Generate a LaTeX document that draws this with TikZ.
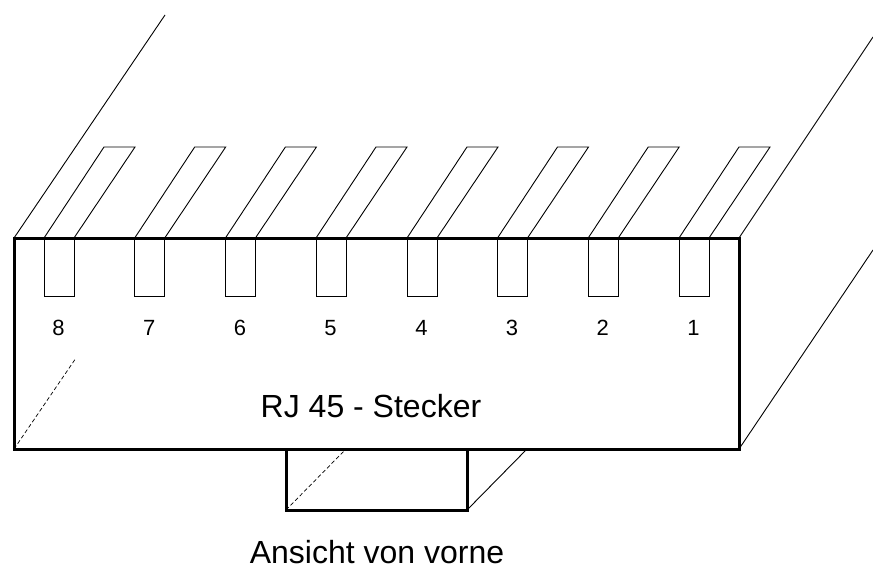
\documentclass[tikz,border=0pt]{standalone}
\usepackage{fontspec}
\setmainfont{Liberation Sans}
\tikzset{
  thinline/.style={draw=black,line width=0.9pt},
  thickline/.style={draw=black,line width=3pt,line join=miter},
  dashline/.style={draw=black,line width=0.7pt,dash pattern=on 4pt off 2.5pt},
  pinlabel/.style={inner sep=0pt,anchor=base,font=\fontsize{22pt}{24pt}\selectfont},
  biglabel/.style={inner sep=0pt,anchor=base,font=\fontsize{32pt}{36pt}\selectfont}
}
\begin{document}
\begin{tikzpicture}[x=1pt,y=-1pt]
\useasboundingbox (0,0) rectangle (873,567);
\fill[white] (0,0) rectangle (873,567);
\coordinate (tl) at (14,238);
\coordinate (tr) at (739,238);
\coordinate (br) at (739,449);
\coordinate (bl) at (14,449);
\coordinate (tlfar) at (165,15);
\coordinate (trfar) at (873,37);
\coordinate (brfar) at (873,250);
\coordinate (dashfar) at (76,358);
\coordinate (ka) at (286,449);
\coordinate (kb) at (467,449);
\coordinate (kc) at (467,510);
\coordinate (kd) at (286,510);
\coordinate (kf) at (527,449);
\coordinate (kg) at (345,450);
\draw[thinline] (tl) -- (tlfar);
\draw[thinline] (tr) -- (trfar);
\draw[thinline] (br) -- (brfar);
\draw[dashline] (bl) -- (dashfar);
\foreach \n/\x in {8/44,7/134.7,6/225.4,5/316,4/407,3/497.5,2/588.2,1/679}{
  \draw[thinline] (\x,238) -- (\x,296.5) -- ({\x+30},296.5) -- ({\x+30},238);
  \draw[thinline,line join=miter] (\x,238) -- ({\x+60},147) -- ({\x+91},147) -- ({\x+30},238);
  \node[pinlabel] (pin\n) at ({\x+14.5},335) {\n};
}
\draw[thickline] (tl) -- (tr) -- (br) -- (bl) -- cycle;
\draw[thickline] (ka) -- (kb) -- (kc) -- (kd) -- cycle;
\draw[thinline] (kc) -- (kf);
\draw[dashline] (kd) -- (kg);
\node[biglabel] (title) at (371,417) {RJ 45 - Stecker};
\node[biglabel] (view) at (377,563) {Ansicht von vorne};
\end{tikzpicture}
\end{document}
